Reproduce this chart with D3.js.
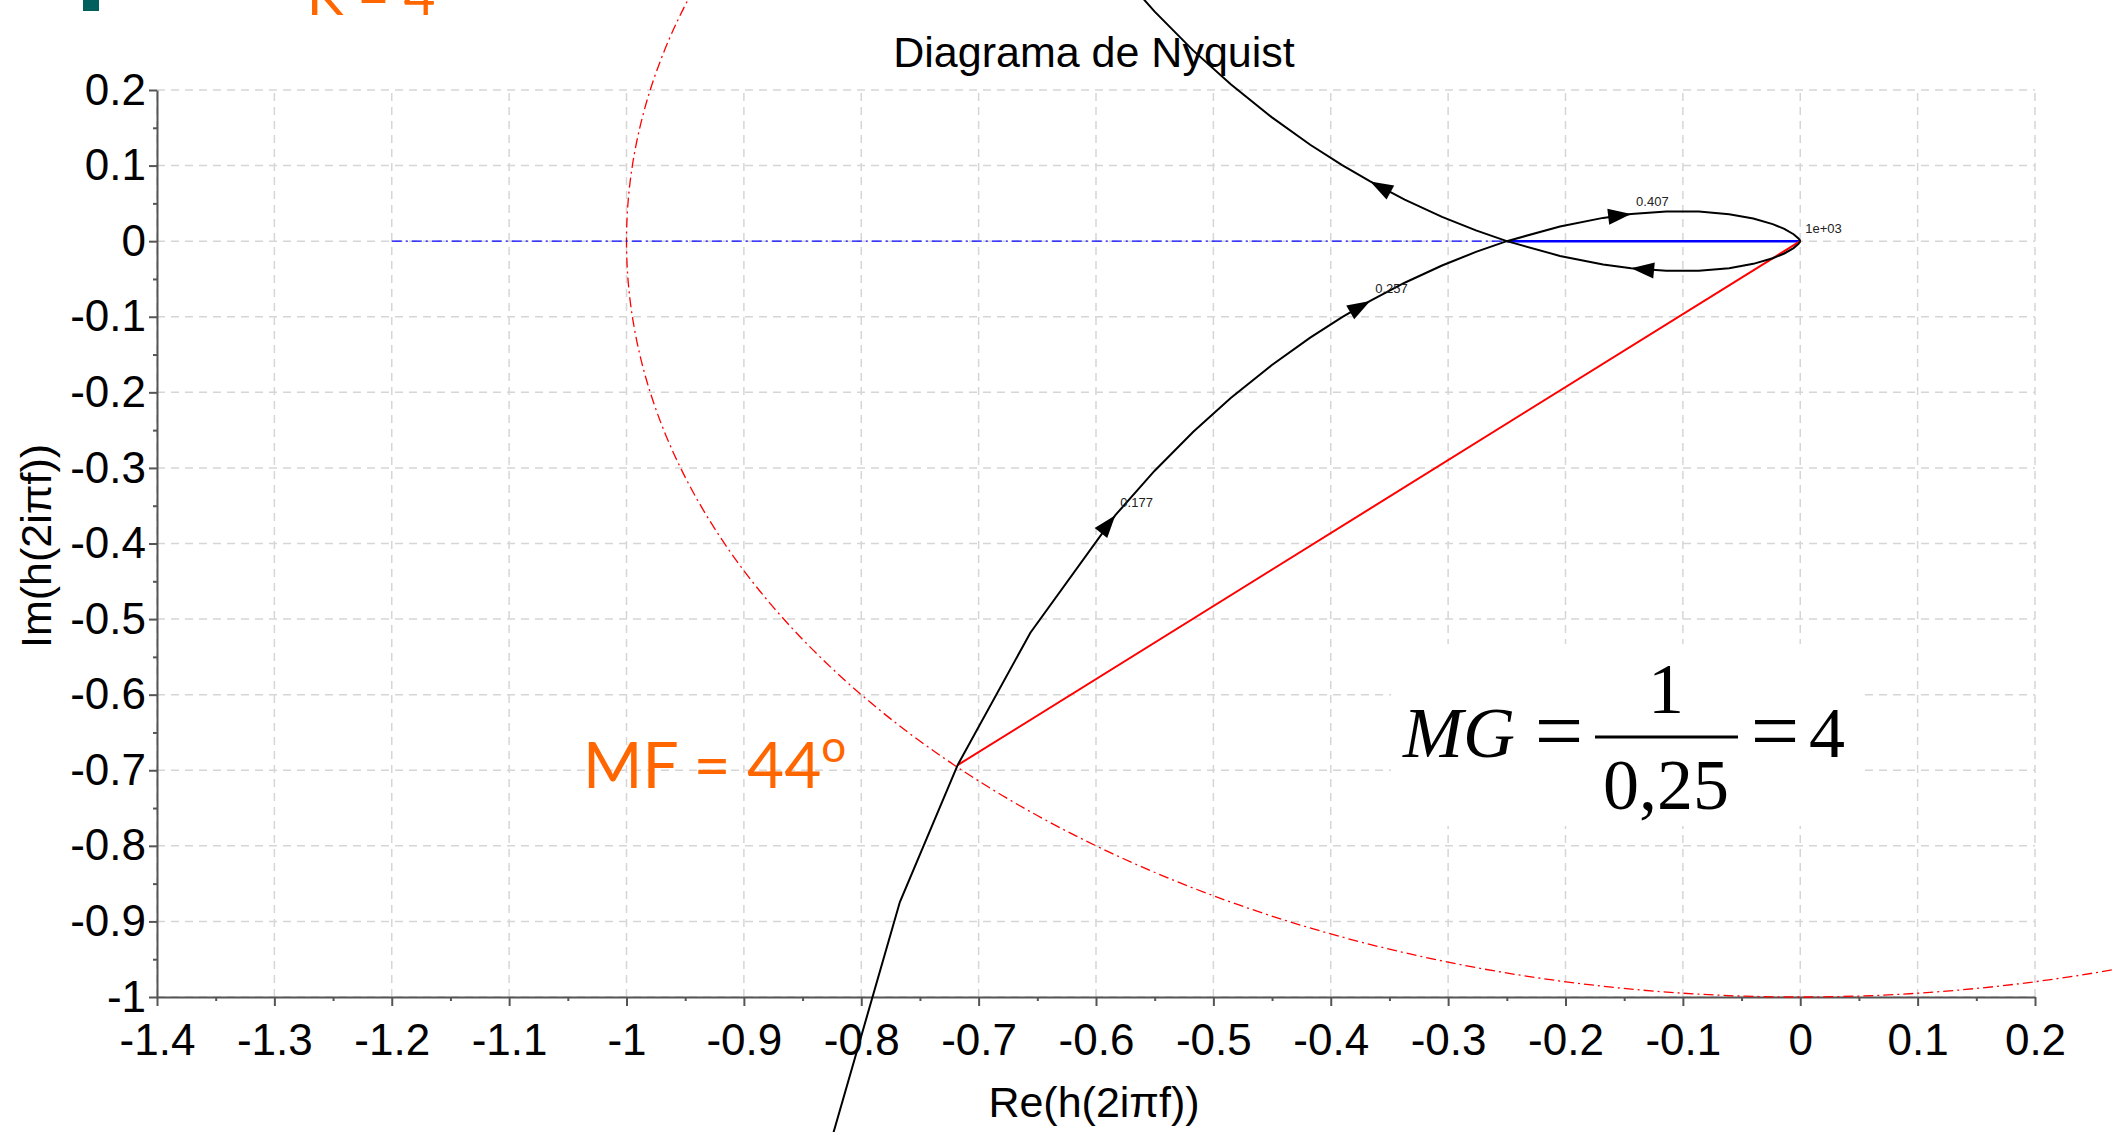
<!DOCTYPE html>
<html>
<head>
<meta charset="utf-8">
<script src="https://cdn.jsdelivr.net/npm/d3@7"></script>
<style>
body { margin: 0; background: #fff; }
svg { display: block; }
</style>
</head>
<body>
<script>
// axis ticks
var xTicks = [-1.4, -1.3, -1.2, -1.1, -1, -0.9, -0.8, -0.7, -0.6, -0.5, -0.4, -0.3, -0.2, -0.1, 0, 0.1, 0.2];
var xTickLabels = ['-1.4', '-1.3', '-1.2', '-1.1', '-1', '-0.9', '-0.8', '-0.7', '-0.6', '-0.5', '-0.4', '-0.3', '-0.2', '-0.1', '0', '0.1', '0.2'];
var xMinor = [-1.35, -1.25, -1.15, -1.05, -0.95, -0.85, -0.75, -0.65, -0.55, -0.45, -0.35, -0.25, -0.15, -0.05, 0.05, 0.15];
var yTicks = [0.2, 0.1, 0, -0.1, -0.2, -0.3, -0.4, -0.5, -0.6, -0.7, -0.8, -0.9, -1];
var yTickLabels = ['0.2', '0.1', '0', '-0.1', '-0.2', '-0.3', '-0.4', '-0.5', '-0.6', '-0.7', '-0.8', '-0.9', '-1'];
var yMinor = [0.15, 0.05, -0.05, -0.15, -0.25, -0.35, -0.45, -0.55, -0.65, -0.75, -0.85, -0.95];

// nyquist curve, positive frequencies (low f -> 1e+03 Hz)
var nyqRe = [-0.8858, -0.8417, -0.7671, -0.7179, -0.6559, -0.5835, -0.5502, -0.5171, -0.4852, -0.4504, -0.4175, -0.3903, -0.3664, -0.337, -0.3052, -0.2763, -0.25, -0.2047, -0.168, -0.1441, -0.1141, -0.0864, -0.0606, -0.04, -0.0235, -0.0136, -0.0057, -0.0015, -0.0002, 0];
var nyqIm = [-1.6609, -1.2766, -0.8744, -0.6932, -0.518, -0.3625, -0.304, -0.2521, -0.2075, -0.1641, -0.1276, -0.1006, -0.079, -0.055, -0.0322, -0.0142, 0, 0.0195, 0.0308, 0.0358, 0.0391, 0.0391, 0.0357, 0.03, 0.0226, 0.0163, 0.0092, 0.0036, 0.0009, 0];
// negative frequencies (-1e+03 Hz -> low f)
var nyqReNeg = [0, -0.0002, -0.0015, -0.0057, -0.0136, -0.0235, -0.04, -0.0606, -0.0864, -0.1141, -0.1441, -0.168, -0.2047, -0.25, -0.2763, -0.3052, -0.337, -0.3664, -0.3903, -0.4175, -0.4504, -0.4852, -0.5171, -0.5502, -0.5835, -0.6559, -0.7179, -0.7671, -0.8417, -0.8858];
var nyqImNeg = [0, -0.0009, -0.0036, -0.0092, -0.0163, -0.0226, -0.03, -0.0357, -0.0391, -0.0391, -0.0358, -0.0308, -0.0195, 0, 0.0142, 0.0322, 0.055, 0.079, 0.1006, 0.1276, 0.1641, 0.2075, 0.2521, 0.304, 0.3625, 0.518, 0.6932, 0.8744, 1.2766, 1.6609];

// direction arrows: tip and a point just behind it on the curve
var arrowTipRe = [-0.5835, -0.3664, -0.1441, -0.1441, -0.3664];
var arrowTipIm = [-0.3625, -0.079, 0.0358, -0.0358, 0.079];
var arrowTailRe = [-0.5994, -0.3828, -0.1523, -0.1382, -0.354];
var arrowTailIm = [-0.3932, -0.0936, 0.0343, -0.0367, 0.0685];

// frequency labels (Hz)
var freqLabels = ['0.177', '0.257', '0.407', '1e+03'];
var freqRe = [-0.5835, -0.3664, -0.1441, 0];
var freqIm = [-0.3625, -0.079, 0.0358, 0];

// margins
var realAxisSpan = [-1.2, 0];
var gainSpan = [-0.25, 0];
var phasePoint = [-0.7179, -0.6932];
var unitRadius = 1;

var W = 2112, H = 1132;
var sans = 'Liberation Sans, Arial, Helvetica, sans-serif';
var serif = 'Liberation Serif, Times New Roman, serif';
var slide = 'Lato, Open Sans, sans-serif';

var svg = d3.select('body').append('svg')
  .attr('width', W)
  .attr('height', H);

svg.append('rect').attr('width', W).attr('height', H).attr('fill', '#fff');

var x = d3.scaleLinear().domain([-1.4, 0.2]).range([157, 2035]);
var y = d3.scaleLinear().domain([-1, 0.2]).range([997, 90]);

// grid
svg.append('g').selectAll('line').data(xTicks).join('line')
  .attr('x1', d => x(d)).attr('x2', d => x(d))
  .attr('y1', y(-1)).attr('y2', y(0.2))
  .attr('stroke', '#d6d6d6').attr('stroke-width', 1.5)
  .attr('stroke-dasharray', '8,6');
svg.append('g').selectAll('line').data(yTicks).join('line')
  .attr('x1', x(-1.4)).attr('x2', x(0.2))
  .attr('y1', d => y(d)).attr('y2', d => y(d))
  .attr('stroke', '#d6d6d6').attr('stroke-width', 1.5)
  .attr('stroke-dasharray', '8,6');

// axes
svg.append('g')
  .attr('transform', 'translate(0,' + y(-1) + ')')
  .call(d3.axisBottom(x).tickValues(xTicks).tickFormat((d, i) => xTickLabels[i])
    .tickSize(9).tickSizeOuter(0).tickPadding(18));
svg.append('g')
  .attr('transform', 'translate(0,' + y(-1) + ')')
  .call(d3.axisBottom(x).tickValues(xMinor).tickFormat('').tickSize(4))
  .select('.domain').remove();

svg.append('g')
  .attr('transform', 'translate(' + x(-1.4) + ',0)')
  .call(d3.axisLeft(y).tickValues(yTicks).tickFormat((d, i) => yTickLabels[i])
    .tickSize(8).tickSizeOuter(0).tickPadding(3));
svg.append('g')
  .attr('transform', 'translate(' + x(-1.4) + ',0)')
  .call(d3.axisLeft(y).tickValues(yMinor).tickFormat('').tickSize(4))
  .select('.domain').remove();

svg.selectAll('.domain, .tick line')
  .attr('stroke', '#555').attr('stroke-width', 2);
svg.selectAll('.tick text')
  .attr('fill', '#000')
  .style('font-family', sans)
  .style('font-size', '44px');

// titles
svg.append('text')
  .text('Diagrama de Nyquist')
  .attr('x', 1094).attr('y', 67)
  .attr('text-anchor', 'middle')
  .style('font-family', sans).style('font-size', '43px');
svg.append('text')
  .text('Re(h(2iπf))')
  .attr('x', 1094).attr('y', 1117)
  .attr('text-anchor', 'middle')
  .style('font-family', sans).style('font-size', '43px');
svg.append('text')
  .text('Im(h(2iπf))')
  .attr('transform', 'translate(51,546) rotate(-90)')
  .attr('text-anchor', 'middle')
  .style('font-family', sans).style('font-size', '43px');

// unit circle
svg.append('ellipse')
  .attr('cx', x(0)).attr('cy', y(0))
  .attr('rx', x(unitRadius) - x(0)).attr('ry', y(0) - y(unitRadius))
  .attr('fill', 'none').attr('stroke', '#ff0000').attr('stroke-width', 1.3)
  .attr('stroke-dasharray', '10,4,2,4');

// real axis reference and gain margin
svg.append('line')
  .attr('x1', x(realAxisSpan[0])).attr('x2', x(realAxisSpan[1]))
  .attr('y1', y(0)).attr('y2', y(0))
  .attr('stroke', '#0000ff').attr('stroke-width', 1.3)
  .attr('stroke-dasharray', '10,4,2,4');
svg.append('line')
  .attr('x1', x(gainSpan[0])).attr('x2', x(gainSpan[1]))
  .attr('y1', y(0)).attr('y2', y(0))
  .attr('stroke', '#0000ff').attr('stroke-width', 2.5);

// phase margin
svg.append('line')
  .attr('x1', x(0)).attr('y1', y(0))
  .attr('x2', x(phasePoint[0])).attr('y2', y(phasePoint[1]))
  .attr('stroke', '#ff0000').attr('stroke-width', 2);

// nyquist curve
var line = d3.line().x(d => x(d[0])).y(d => y(d[1]));
svg.append('path')
  .attr('d', line(d3.zip(nyqRe, nyqIm)))
  .attr('fill', 'none').attr('stroke', '#000').attr('stroke-width', 2);
svg.append('path')
  .attr('d', line(d3.zip(nyqReNeg, nyqImNeg)))
  .attr('fill', 'none').attr('stroke', '#000').attr('stroke-width', 2);

// arrows
svg.append('g').selectAll('path').data(d3.range(arrowTipRe.length)).join('path')
  .attr('d', 'M0,0L-23,-8L-23,8Z')
  .attr('fill', '#000')
  .attr('transform', function(i) {
    var tx = x(arrowTipRe[i]), ty = y(arrowTipIm[i]);
    var a = Math.atan2(ty - y(arrowTailIm[i]), tx - x(arrowTailRe[i])) * 180 / Math.PI;
    return 'translate(' + tx + ',' + ty + ') rotate(' + a + ')';
  });

svg.append('g').selectAll('text').data(freqLabels).join('text')
  .text(d => d)
  .attr('x', (d, i) => x(freqRe[i]) + 5)
  .attr('y', (d, i) => y(freqIm[i]) - 8)
  .attr('fill', '#222')
  .style('font-family', sans).style('font-size', '13px');

// slide annotations
svg.append('rect')
  .attr('x', 83).attr('y', -6).attr('width', 16).attr('height', 17)
  .attr('fill', '#00605e');
svg.append('text')
  .text('K = 4')
  .attr('x', 307).attr('y', 15)
  .attr('fill', '#ff6600')
  .style('font-family', slide).style('font-size', '55px');

var mf = svg.append('text')
  .attr('x', 583).attr('y', 788)
  .attr('fill', '#ff6600')
  .style('font-family', slide).style('font-size', '64px');
mf.append('tspan').text('MF = 44');
mf.append('tspan').text('o').attr('dy', -26).style('font-size', '44px');

// gain margin formula
svg.append('rect')
  .attr('x', 1391).attr('y', 644).attr('width', 472).attr('height', 182)
  .attr('fill', '#fff');
var f = svg.append('g').style('font-family', serif).attr('fill', '#000');
f.append('text').text('MG').attr('x', 1403).attr('y', 757)
  .style('font-style', 'italic').style('font-size', '72px');
f.append('text').text('=').attr('x', 1559).attr('y', 760)
  .attr('text-anchor', 'middle').style('font-size', '86px');
f.append('text').text('1').attr('x', 1666).attr('y', 713)
  .attr('text-anchor', 'middle').style('font-size', '72px');
f.append('line').attr('x1', 1595).attr('x2', 1738).attr('y1', 737).attr('y2', 737)
  .attr('stroke', '#000').attr('stroke-width', 3);
f.append('text').text('0,25').attr('x', 1666).attr('y', 809)
  .attr('text-anchor', 'middle').style('font-size', '72px');
f.append('text').text('=').attr('x', 1775).attr('y', 760)
  .attr('text-anchor', 'middle').style('font-size', '86px');
f.append('text').text('4').attr('x', 1827).attr('y', 757)
  .attr('text-anchor', 'middle').style('font-size', '72px');
</script>
</body>
</html>
